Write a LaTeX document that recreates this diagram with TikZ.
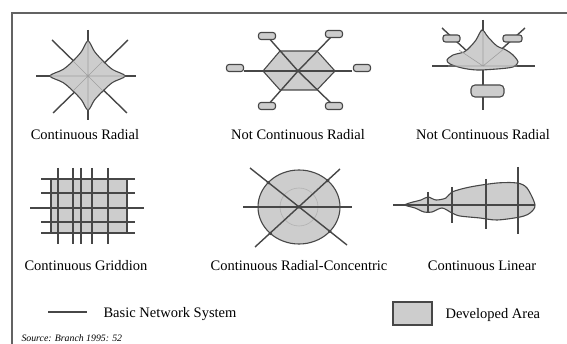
\documentclass[tikz,border=0pt]{standalone}
\usepackage{fontspec}
\setmainfont{Liberation Serif}
\usetikzlibrary{calc}

\definecolor{netgray}{HTML}{474747}
\definecolor{areagray}{HTML}{CDCDCD}

\begin{document}
\begin{tikzpicture}[x=1pt, y=-1pt,
    net/.style={netgray, line width=1.4pt},
    innernet/.style={gray!75, line width=0.6pt},
    area/.style={fill=areagray, draw=netgray, line width=1.1pt},
    pill/.style={fill=areagray, draw=netgray, line width=1.1pt, rounded corners=2.5pt},
    caption/.style={font=\fontsize{14.5}{17}\selectfont, anchor=base}]

    % 0. Picture size and frame
    \useasboundingbox (0,0) rectangle (567,344);
    \draw[netgray!85, line width=1.5pt] (570,13) -- (12,13) -- (12,350);

    % 1. Continuous Radial (star)
    \begin{scope}[shift={(88,76)}]
        \draw[net] (0,-46) -- (0,44);
        \draw[net] (-52,0) -- (48,0);
        \draw[net] (-36,-36) -- (39,37);
        \draw[net] (40,-36) -- (-35,37);
        \filldraw[area] plot[smooth cycle, tension=0.55] coordinates {
            (0,-35) (6.5,-24.5) (15,-15) (24.5,-6.5) (37,0) (24.5,6.5) (15,15) (6.5,24)
            (0,34) (-6.5,24) (-15,15) (-25,6.5) (-38,0) (-25,-6.5) (-15,-15) (-6.5,-24.5)};
        \draw[innernet] (0,-35) -- (0,34) (-38,0) -- (37,0)
            (-15,-15) -- (15,15) (15,-15) -- (-15,15);
    \end{scope}
    \node[caption] (cap-radial) at (85,140) {Continuous Radial};

    % 2. Not Continuous Radial (hexagon with satellites)
    \begin{scope}[shift={(298,71)}]
        \filldraw[area] (-35,0) -- (-18,-20) -- (19,-20) -- (37,0) -- (19,19) -- (-18,19) -- cycle;
        \draw[net] (-54,0) -- (54,0);
        \foreach \px/\py in {-31/-35, 36/-37, -31/35, 36/35}
            \draw[net] (0,0) -- (\px,\py);
        \fill[netgray] (0,0) circle (1.5pt);
        % satellites
        \foreach \px/\py in {-63/-3, 64/-3, -31/-35, 36/-37, -31/35, 36/35}
            \draw[pill] (\px-8.5,\py-3.5) rectangle (\px+8.5,\py+3.5);
    \end{scope}
    \node[caption] (cap-notradial-a) at (298,140) {Not Continuous Radial};

    % 3. Not Continuous Radial (irregular core)
    \coordinate (core) at (483,66);
    \draw[net] (483,20) -- (483,110);
    \draw[net] (432,66) -- (535,66);
    \draw[net] (core) -- (442,28);
    \draw[net] (core) -- (525,28);
    \filldraw[area] plot[smooth cycle, tension=0.5] coordinates {
        (482,30) (476,40) (470,47) (464,52) (453,55) (447,60) (450,64)
        (462,68) (477,70) (497,69) (513,67) (518,62) (513,55) (506,50)
        (497,46) (488,37)};
    \draw[innernet] (483,31) -- (core) -- (459,50) (core) -- (505,48) (448,66) -- (517,66);
    \draw[pill] (443,35) rectangle (460,42);
    \draw[pill] (503,35) rectangle (522,42);
    \draw[pill, rounded corners=4pt] (471,85) rectangle (504,97);
    \node[caption] (cap-notradial-b) at (483,140) {Not Continuous Radial};

    % 4. Continuous Griddion
    \fill[areagray] (51,179) rectangle (127,233);
    \foreach \y in {179,193,222,233}
        \draw[net] (41,\y) -- (135,\y);
    \draw[net] (30,208) -- (144,208);
    \foreach \x in {58,73,81,92,108}
        \draw[net] (\x,168) -- (\x,244);
    \draw[net] (51,179) rectangle (127,233);
    \node[caption] (cap-grid) at (86,271) {Continuous Griddion};

    % 5. Continuous Radial-Concentric
    \coordinate (ring) at (299,207);
    \filldraw[area] (ring) ellipse [x radius=41, y radius=37];
    \draw[gray!60, line width=0.6pt] (ring) circle (19);
    \draw[net] (243,207) -- (352,207);
    \draw[net] (250,168) -- (347,245);
    \draw[net] (340,169) -- (255,247);
    \foreach \d in {(268.2,182.6), (329.8,231.4), (270.3,233.4), (327.7,180.6), (299,207)}
        \fill[netgray] \d circle (1.8pt);
    \node[caption] (cap-concentric) at (299,271) {Continuous Radial-Concentric};

    % 6. Continuous Linear
    \filldraw[area] plot[smooth cycle, tension=0.5] coordinates {
        (405,205) (413,202) (421,200) (428,197) (436,200) (446,198) (452,192)
        (470,187) (497,183) (517,183) (527,188) (535,205) (530,213) (520,217)
        (497,220) (480,218) (460,216) (452,213) (442,208) (432,212) (424,212)
        (415,208)};
    \draw[net] (393,205) -- (535,205);
    \draw[net] (428,192) -- (428,213);
    \draw[net] (452,187) -- (452,223);
    \draw[net] (486,179) -- (486,229);
    \draw[net] (518,167) -- (518,234);
    \node[caption] (cap-linear) at (482,271) {Continuous Linear};

    % 7. Legend
    \coordinate (key-a) at (48,312);
    \coordinate (key-b) at (87,312);
    \draw[net] (key-a) -- (key-b);
    \node[caption, anchor=base west] (key-net) at (100,317) {Basic Network System};
    \filldraw[area, line width=1.5pt] (393,302) rectangle (432,325);
    \node[caption, anchor=base west] (key-area) at (442,319) {Developed Area};

    % 8. Source
    \node[anchor=base west, font=\fontsize{9.8}{11}\selectfont\itshape] (source) at (18,341.5) {Source: Branch 1995: 52};

\end{tikzpicture}
\end{document}
